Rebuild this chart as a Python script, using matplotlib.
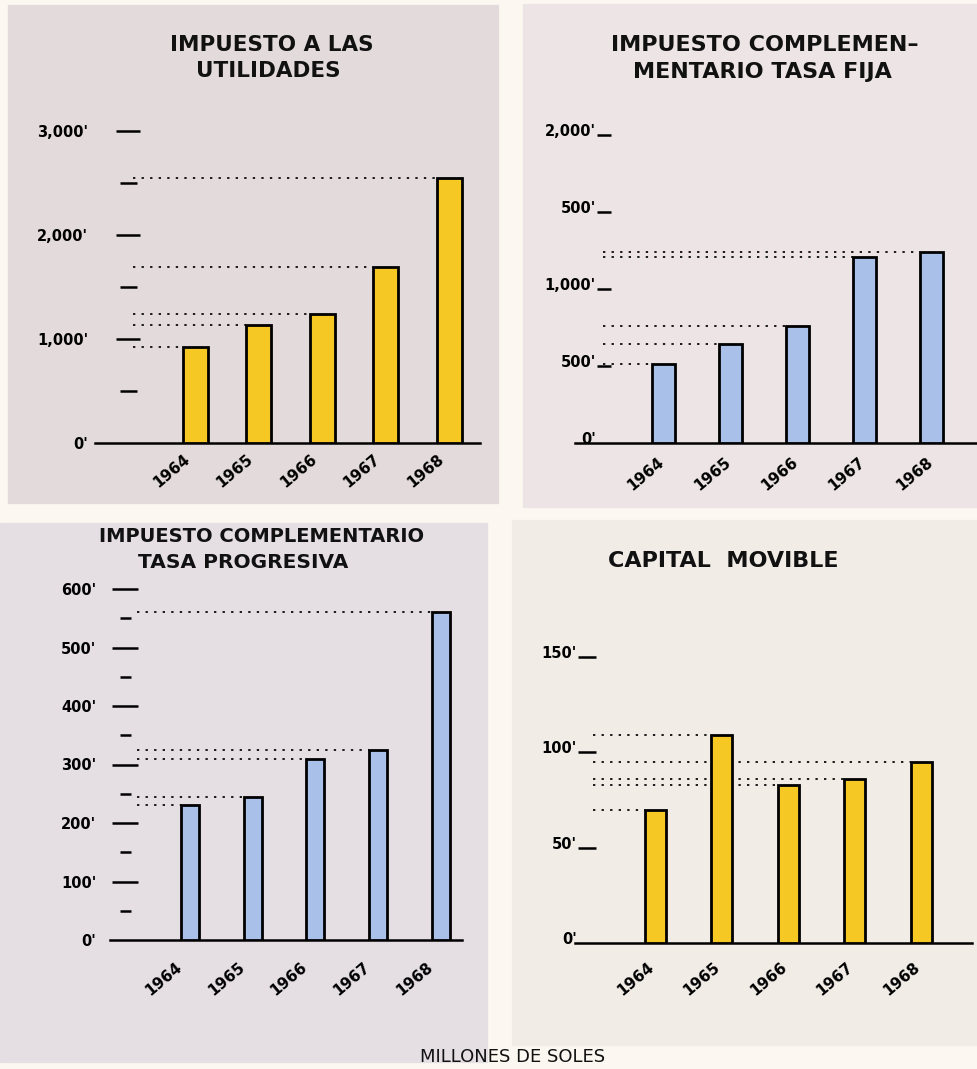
import numpy as np
import matplotlib.pyplot as plt
from matplotlib.patches import Rectangle
from matplotlib.transforms import ScaledTranslation

W, H = 978, 1069

# datos (millones de soles)
years = ['1964', '1965', '1966', '1967', '1968']
utilidades = [920, 1130, 1240, 1690, 2550]
tasa_fija = [510, 640, 760, 1210, 1240]
tasa_progresiva = [230, 245, 310, 325, 560]
capital_movible = [70, 109, 83, 86, 95]

ticks_util = [0, 1000, 2000, 3000]
labels_util = ["0'", "1,000'", "2,000'", "3,000'"]
minor_util = [500, 1500, 2500]

ticks_fija = [0, 500, 1000, 1500, 2000]
labels_fija = ["0'", "500'", "1,000'", "500'", "2,000'"]

ticks_prog = [0, 100, 200, 300, 400, 500, 600]
labels_prog = ["0'", "100'", "200'", "300'", "400'", "500'", "600'"]
minor_prog = [50, 150, 250, 350, 450, 550]

ticks_cap = [0, 50, 100, 150]
labels_cap = ["0'", "50'", "100'", "150'"]

YELLOW = '#f5c823'
BLUE = '#a9c0e8'

fig = plt.figure(figsize=(W / 100, H / 100), dpi=100, facecolor='#fcf8f1')


def px_rect(x0, y0, x1, y1):
    return [x0 / W, 1 - y1 / H, (x1 - x0) / W, (y1 - y0) / H]


# fondos de los cuatro paneles
for x0, y0, x1, y1, c in [(8, 5, 498, 503, '#e2dadb'),
                          (523, 4, 978, 507, '#ece4e5'),
                          (0, 523, 487, 1062, '#e5dfe4'),
                          (512, 520, 978, 1045, '#f2ece7')]:
    fig.add_artist(Rectangle((x0 / W, 1 - y1 / H), (x1 - x0) / W, (y1 - y0) / H,
                             transform=fig.transFigure, color=c, zorder=0))


def panel(values, color, x0, x1, ybase, ytop, c0, step, ppu, bw,
          ticks, labels, minor, spine_x, maj_len, min_len, pad, guide_x,
          xoff, xpad, ldy=0):
    ax = fig.add_axes(px_rect(x0, ytop, x1, ybase))
    ax.patch.set_alpha(0)
    x = np.arange(len(values))
    w = bw / step
    ax.bar(x, values, width=w, color=color, edgecolor='black', linewidth=2, zorder=3)
    ax.set_xlim((x0 - c0) / step, (x1 - c0) / step)
    ax.set_ylim(0, (ybase - ytop) / ppu)
    gx = (guide_x - c0) / step
    for xi, v in zip(x, values):
        ax.plot([gx, xi - w / 2], [v, v], ls=(0, (1.2, 3.2)), color='#1a1a1a', lw=1.4)

    for s in ['top', 'right']:
        ax.spines[s].set_visible(False)
    ax.spines['bottom'].set_linewidth(1.8)
    ax.spines['left'].set_position(('data', (spine_x - c0) / step))
    ax.spines['left'].set_visible(False)

    ax.set_yticks(ticks, labels, fontsize=10.5, fontweight='bold')
    if minor:
        ax.set_yticks(minor, minor=True)
    ax.tick_params(axis='y', which='major', direction='inout', length=maj_len * 0.72,
                   width=1.8, pad=pad)
    ax.tick_params(axis='y', which='minor', direction='inout', length=min_len * 0.72,
                   width=1.8)
    for t in ax.yaxis.get_major_ticks():
        if t.get_loc() == 0:
            t.tick1line.set_visible(False)
    if ldy:
        off = ScaledTranslation(0, ldy / 100, fig.dpi_scale_trans)
        for lab in ax.get_yticklabels():
            lab.set_transform(lab.get_transform() + off)

    ax.set_xticks(x, years, rotation=40, ha='right', rotation_mode='anchor',
                  fontsize=11, fontweight='bold')
    ax.tick_params(axis='x', length=0, pad=xpad)
    off = ScaledTranslation(xoff / 100, 0, fig.dpi_scale_trans)
    for lab in ax.get_xticklabels():
        lab.set_transform(lab.get_transform() + off)
    return ax


panel(utilidades, YELLOW, 95, 480, 443, 120, 195, 63.5, 0.104, 25,
      ticks_util, labels_util, minor_util, 128, 24, 17, 20, 133, -12, 6)
panel(tasa_fija, BLUE, 575, 978, 443, 125, 663, 67.2, 0.154, 23,
      ticks_fija, labels_fija, None, 604, 14, 0, 1, 603, -6, 8, ldy=5)
panel(tasa_progresiva, BLUE, 110, 462, 940, 580, 190, 62.7, 0.585, 18,
      ticks_prog, labels_prog, minor_prog, 125, 27, 11, 11, 137, -15, 14)
panel(capital_movible, YELLOW, 575, 972, 943, 640, 655, 66.5, 1.907, 21,
      ticks_cap, labels_cap, None, 587, 18, 0, 1, 593, -8, 12, ldy=5)

# titulos
for txt, xp, yp, fs in [("IMPUESTO A LAS", 272, 45, 15.5), ("UTILIDADES", 268, 71, 15.5),
                        ("IMPUESTO COMPLEMEN\u2013", 765, 45, 16), ("MENTARIO TASA FIJA", 762, 72, 16),
                        ("IMPUESTO COMPLEMENTARIO", 262, 536, 14), ("TASA PROGRESIVA", 243, 563, 14.5),
                        ("CAPITAL  MOVIBLE", 723, 561, 16)]:
    fig.text(xp / W, 1 - yp / H, txt, ha='center', va='center', fontsize=fs,
             fontweight='bold', color='#111')

fig.text(513 / W, 1 - 1057 / H, "MILLONES DE SOLES", ha='center', va='center',
         fontsize=13, color='#111')

fig.savefig('out.png', dpi=100, facecolor=fig.get_facecolor())
